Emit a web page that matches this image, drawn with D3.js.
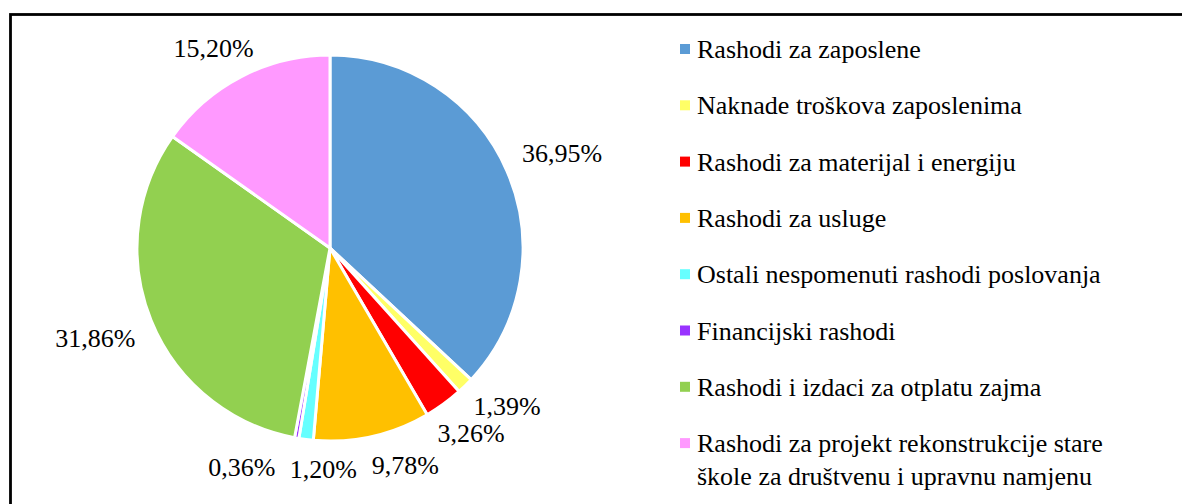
<!DOCTYPE html>
<html><head><meta charset="utf-8">
<style>
@font-face {
  font-family: "ChartSerif";
  src: local("Liberation Serif"), local("LiberationSerif"), local("LiberationSerif-Regular"),
       local("Times New Roman"), local("TimesNewRomanPSMT"), local("Tinos"), local("Tinos-Regular");
}
</style>
<script src="https://cdn.jsdelivr.net/npm/d3@7"></script></head>
<body style="margin:0">
<svg id="chart" width="1182" height="504"></svg>
<script>
// ---- data ----
const categories = [
  "Rashodi za zaposlene",
  "Naknade troškova zaposlenima",
  "Rashodi za materijal i energiju",
  "Rashodi za usluge",
  "Ostali nespomenuti rashodi poslovanja",
  "Financijski rashodi",
  "Rashodi i izdaci za otplatu zajma",
  "Rashodi za projekt rekonstrukcije stare škole za društvenu i upravnu namjenu"
];
const shares = [36.95, 1.39, 3.26, 9.78, 1.20, 0.36, 31.86, 15.20];
const colors = ["#5B9BD5", "#FFFF66", "#FF0000", "#FFC000", "#66FFFF", "#9933FF", "#92D050", "#FF99FF"];

// ---- layout ----
const FONT = '"Liberation Serif", ChartSerif, "Times New Roman", Tinos, Times';
const cx = 330, cy = 248, R = 193;
const svg = d3.select("#chart");

// frame
svg.append("rect")
  .attr("x", 10.5).attr("y", 14.5)
  .attr("width", 1300).attr("height", 700)
  .attr("fill", "none").attr("stroke", "#000").attr("stroke-width", 2.8);

const data = categories.map((c, i) => ({ name: c, value: shares[i], color: colors[i] }));
const pie = d3.pie().sort(null).value(d => d.value);
const arcs = pie(data);
const arc = d3.arc().innerRadius(0).outerRadius(R);

const g = svg.append("g").attr("transform", `translate(${cx},${cy})`);
g.selectAll("path.slice").data(arcs).enter().append("path")
  .attr("class", "slice")
  .attr("d", arc)
  .attr("fill", d => d.data.color)
  .attr("stroke", "#fff")
  .attr("stroke-width", 3)
  .attr("stroke-linejoin", "round");

// ---- data labels (outside end) ----
const fmt = v => v.toFixed(2).replace(".", ",") + "%";
const labelFont = 26;
const labelR = R + 20;
const L = [];
arcs.forEach(d => {
  const t = svg.append("text")
    .style("font-family", FONT)
    .attr("font-size", labelFont)
    .attr("text-anchor", "middle")
    .text(fmt(d.data.value));
  const w = t.node().getComputedTextLength();
  const h = labelFont * 0.72;
  const a = (d.startAngle + d.endAngle) / 2;
  const ux = Math.sin(a), uy = -Math.cos(a);
  L.push({
    el: t, a, w, h,
    x: labelR * ux + ux * w / 2,
    y: labelR * uy + Math.sign(uy) * 10
  });
});

// collision relaxation along the tangent (horizontal near top/bottom)
const padX = 14, padY = 8;
for (let iter = 0; iter < 500; iter++) {
  let moved = false;
  for (let i = 0; i < L.length; i++) {
    for (let j = i + 1; j < L.length; j++) {
      const p = L[i], q = L[j];
      const ox = (p.w + q.w) / 2 + padX - Math.abs(p.x - q.x);
      const oy = (p.h + q.h) / 2 + padY - Math.abs(p.y - q.y);
      if (ox > 0 && oy > 0) {
        const am = (p.a + q.a) / 2;
        let tx = Math.cos(am), ty = Math.sin(am);
        if (Math.abs(ty) < 0.3) { ty = 0; tx = Math.sign(tx); }
        p.x -= tx * 0.5; p.y -= ty * 0.5;
        q.x += tx * 0.5; q.y += ty * 0.5;
        moved = true;
      }
    }
  }
  if (!moved) break;
}
// baseline = centre + ~0.33em
L.forEach(l => l.el.attr("x", cx + l.x).attr("y", cy + l.y + labelFont * 0.33));

// ---- legend ----
const legendX = 680, legendTop = 58, legendStep = 56.3, legendFont = 26, lineH = 33, maxW = 450;
data.forEach((d, i) => {
  const by = legendTop + i * legendStep;
  svg.append("rect")
    .attr("x", legendX).attr("y", by - 14)
    .attr("width", 10).attr("height", 10)
    .attr("fill", d.color);
  const words = d.name.split(" ");
  let line = [], ln = 0;
  const mk = (txt, k) => svg.append("text")
    .attr("x", legendX + 17).attr("y", by + k * lineH)
    .style("font-family", FONT)
    .attr("font-size", legendFont)
    .text(txt);
  let t = mk("", 0);
  words.forEach(wd => {
    line.push(wd);
    t.text(line.join(" "));
    if (t.node().getComputedTextLength() > maxW && line.length > 1) {
      line.pop();
      t.text(line.join(" "));
      line = [wd];
      ln++;
      t = mk(wd, ln);
    }
  });
});
</script>
</body></html>
